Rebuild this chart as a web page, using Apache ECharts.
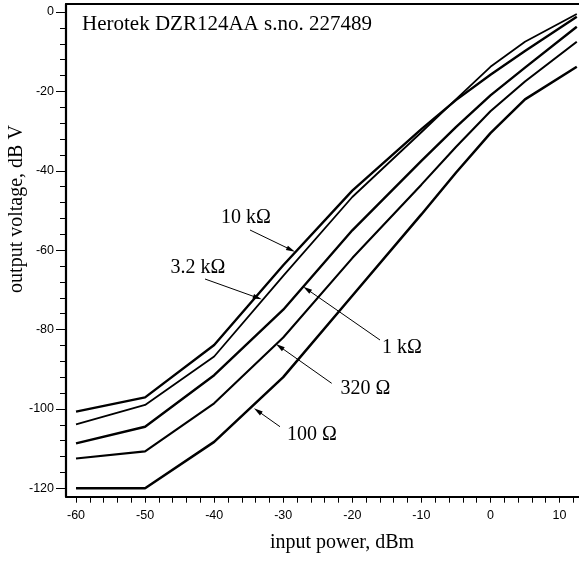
<!DOCTYPE html>
<html><head><meta charset="utf-8">
<script src="https://cdn.jsdelivr.net/npm/echarts@6/dist/echarts.min.js"></script>
<style>html,body{margin:0;padding:0;background:#fff}#c{width:579px;height:561px}</style>
</head><body><div id="c"></div>
<script>
// input power, dBm
const inputPower = [-60, -50, -40, -30, -20, -10, -5, 0, 5, 12.5];
// output voltage, dB V
const out10k  = [-100.7, -97.1, -83.9, -63.8, -45.0, -29.5, -22.2, -15.8, -9.8, -1.2];
const out3k2  = [-103.9, -99.0, -86.8, -66.5, -46.6, -30.3, -22.0, -13.8, -7.5, -0.5];
const out1k   = [-108.7, -104.5, -91.5, -75.0, -55.0, -37.5, -29.0, -21.0, -14.0, -3.7];
const out320  = [-112.5, -110.7, -98.6, -82.0, -62.0, -43.5, -34.0, -25.0, -17.5, -7.5];
const out100  = [-120.0, -120.0, -108.3, -92.0, -71.5, -51.0, -40.5, -30.5, -22.0, -13.8];
const seriesNames = ['10 kΩ', '3.2 kΩ', '1 kΩ', '320 Ω', '100 Ω'];
const xLabelValues = [-60, -50, -40, -30, -20, -10, 0, 10];
const xTickValues = [-60, -58, -56, -54, -52, -50, -48, -46, -44, -42, -40, -38, -36, -34, -32, -30, -28, -26, -24, -22, -20, -18, -16, -14, -12, -10, -8, -6, -4, -2, 0, 2, 4, 6, 8, 10, 12];
const yLabelValues = [-120, -100, -80, -60, -40, -20, 0];
const yMinorTickValues = [-120, -116, -112, -108, -104, -100, -96, -92, -88, -84, -80, -76, -72, -68, -64, -60, -56, -52, -48, -44, -40, -36, -32, -28, -24, -20, -16, -12, -8, -4, 0];
const titleText = 'Herotek DZR124AA s.no. 227489';
const xName = 'input power, dBm';
const yName = 'output voltage, dB V';

const allSeries = [out10k, out3k2, out1k, out320, out100];
const widths = [2.4, 1.8, 2.4, 2.1, 2.5];

const chart = echarts.init(document.getElementById('c'), null, {renderer: 'canvas'});
const serif = '"Liberation Serif", "Times New Roman", serif';
const sans = '"Liberation Sans", Arial, sans-serif';

function arrow(x1, y1, x2, y2) {
  const a = Math.atan2(y2 - y1, x2 - x1);
  const L = 9, W = 2.4;
  const bx = x2 - L * Math.cos(a), by = y2 - L * Math.sin(a);
  const nx = -Math.sin(a), ny = Math.cos(a);
  return [
    {type: 'line', shape: {x1: x1, y1: y1, x2: bx + 2 * Math.cos(a), y2: by + 2 * Math.sin(a)}, style: {stroke: '#000', lineWidth: 1}},
    {type: 'polygon', shape: {points: [[x2, y2], [bx + nx * W, by + ny * W], [bx - nx * W, by - ny * W]]}, style: {fill: '#000'}}
  ];
}
function label(text, x, y, size) {
  return {type: 'text', x: x, y: y, style: {text: text, fill: '#000', font: size + 'px ' + serif, align: 'left', verticalAlign: 'middle'}};
}

const graphics = [
  label(titleText, 82, 24.6, 21),
  {type: 'text', x: 342, y: 543, style: {text: xName, fill: '#000', font: '20px ' + serif, align: 'center', verticalAlign: 'middle'}},
  {type: 'text', x: 17, y: 209, rotation: Math.PI / 2, style: {text: yName, fill: '#000', font: '20px ' + serif, align: 'center', verticalAlign: 'middle'}},
  label(seriesNames[0], 221, 218, 20),
  label(seriesNames[1], 170.5, 268, 20),
  label(seriesNames[2], 382, 348, 20),
  label(seriesNames[3], 340.5, 389, 20),
  label(seriesNames[4], 287, 435, 20)
].concat(
  arrow(250, 230, 295, 251.7),
  arrow(205, 279, 261.7, 299.3),
  arrow(380, 340, 303.3, 286.7),
  arrow(331.7, 383.3, 276, 344),
  arrow(280, 426.7, 254, 408.3)
);

const xMin = -61.45, xMax = 12.82, yMin = -122.12, yMax = 2.02;

const option = {
  animation: false,
  backgroundColor: '#fff',
  grid: {left: 66, top: 4, right: 0, bottom: 64.3, containLabel: false},
  xAxis: [
    {type: 'value', min: xMin, max: xMax, position: 'bottom',
      axisLine: {show: true, onZero: false, lineStyle: {color: '#000', width: 2}},
      axisTick: {show: true, customValues: xTickValues, length: 6, lineStyle: {color: '#000', width: 1}},
      axisLabel: {show: true, customValues: xLabelValues, margin: 12, color: '#000', fontFamily: sans, fontSize: 12.5},
      splitLine: {show: false}},
    {type: 'value', min: xMin, max: xMax, position: 'top',
      axisLine: {show: true, onZero: false, lineStyle: {color: '#000', width: 2}},
      axisTick: {show: false}, axisLabel: {show: false}, splitLine: {show: false}}
  ],
  yAxis: [
    {type: 'value', min: yMin, max: yMax, position: 'left',
      axisLine: {show: true, onZero: false, lineStyle: {color: '#000', width: 2.2}},
      axisTick: {show: true, customValues: yLabelValues, length: 10, lineStyle: {color: '#000', width: 1}},
      axisLabel: {show: true, customValues: yLabelValues, margin: 12, color: '#000', fontFamily: sans, fontSize: 12.5},
      splitLine: {show: false}},
    {type: 'value', min: yMin, max: yMax, position: 'left',
      axisLine: {show: false, onZero: false},
      axisTick: {show: true, customValues: yMinorTickValues, length: 6, lineStyle: {color: '#000', width: 1}},
      axisLabel: {show: false}, splitLine: {show: false}}
  ],
  series: allSeries.map(function (arr, k) {
    return {
      name: seriesNames[k], type: 'line', xAxisIndex: 0, yAxisIndex: 0,
      data: inputPower.map(function (x, i) { return [x, arr[i]]; }),
      symbol: 'none', silent: true,
      lineStyle: {color: '#000', width: widths[k]}
    };
  }),
  graphic: graphics
};
chart.setOption(option);
</script>
</body></html>
